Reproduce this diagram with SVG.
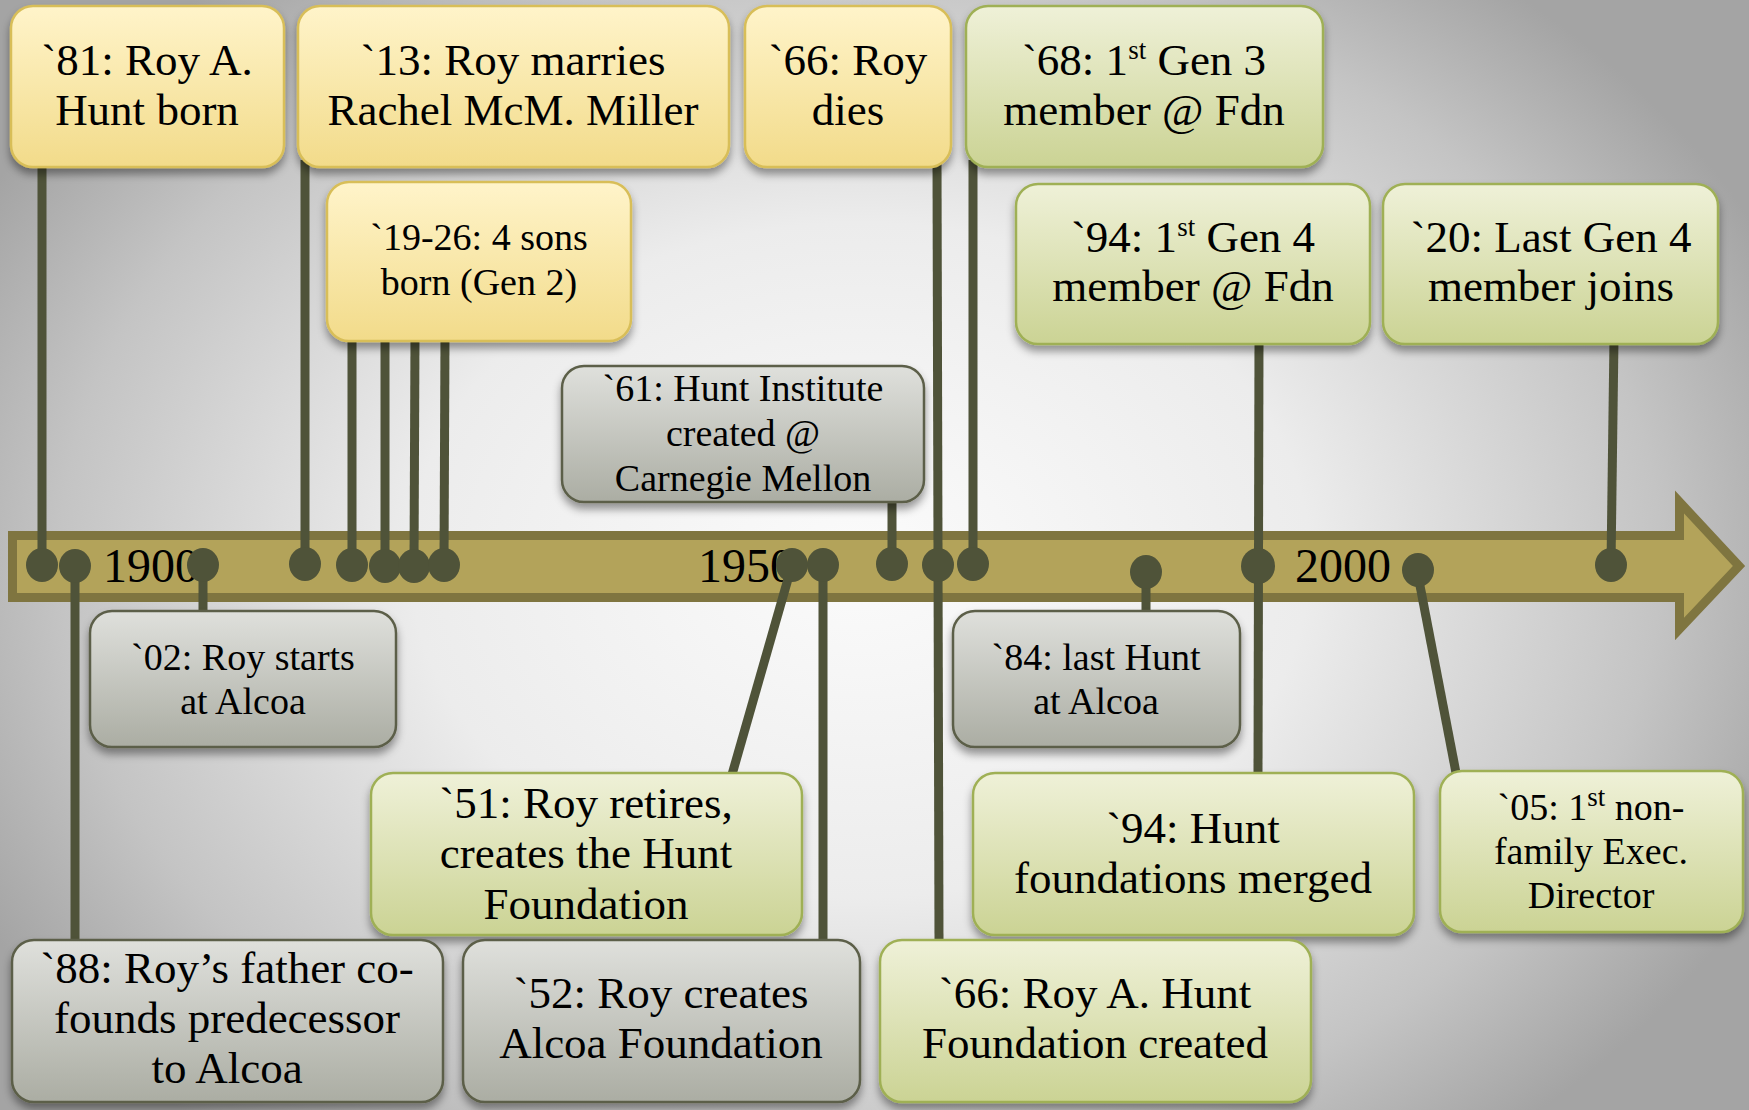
<svg xmlns="http://www.w3.org/2000/svg" width="1749" height="1110" viewBox="0 0 1749 1110">
<defs>
<radialGradient id="bg" gradientUnits="userSpaceOnUse" cx="860" cy="560" r="1000" gradientTransform="translate(860 560) scale(1 0.75) translate(-860 -560)">
<stop offset="0" stop-color="#fbfbfb"/>
<stop offset="0.45" stop-color="#ececec"/>
<stop offset="0.8" stop-color="#c4c4c4"/>
<stop offset="1" stop-color="#a4a4a4"/>
</radialGradient>
<linearGradient id="gy" x1="0" y1="0" x2="0" y2="1">
<stop offset="0" stop-color="#fff4ca"/>
<stop offset="1" stop-color="#f2db8a"/>
</linearGradient>
<linearGradient id="gg" x1="0" y1="0" x2="0" y2="1">
<stop offset="0" stop-color="#eff1d8"/>
<stop offset="1" stop-color="#cbd394"/>
</linearGradient>
<linearGradient id="gr" x1="0" y1="0" x2="0" y2="1">
<stop offset="0" stop-color="#dfe0dc"/>
<stop offset="1" stop-color="#abada3"/>
</linearGradient>
<filter id="sh" x="-10%" y="-10%" width="120%" height="130%">
<feDropShadow dx="0" dy="6" stdDeviation="4" flood-color="#000" flood-opacity="0.4"/>
</filter>
<style>
.y{fill:url(#gy);stroke:#d8be58;stroke-width:2.5;filter:url(#sh)}
.g{fill:url(#gg);stroke:#9fb055;stroke-width:2.5;filter:url(#sh)}
.r{fill:url(#gr);stroke:#5c5f48;stroke-width:2.5;filter:url(#sh)}
text{font-family:"Liberation Serif","Times New Roman",serif;fill:#000;text-anchor:middle}
.L{font-size:45px}
.S{font-size:38px}
.yr{font-size:48px;text-anchor:start}
.c{stroke:#4f5339;stroke-width:9;fill:none}
.d{fill:#4f5339}
.sup{font-size:27px}
</style>
</defs>
<rect x="0" y="0" width="1749" height="1110" fill="url(#bg)"/>
<g id="timeline">
<polygon points="12.5,535.5 1679.5,535.5 1679.5,502 1739,566 1679.5,629 1679.5,597.5 12.5,597.5" fill="#b3a35a" stroke="#7f7540" stroke-width="9" stroke-linejoin="miter"/>
<text class="yr" x="103" y="582">1900</text>
<text class="yr" x="698" y="582">1950</text>
<text class="yr" x="1295" y="582">2000</text>
</g>
<g id="connectors">
<line class="c" x1="42" y1="160" x2="42" y2="565"/>
<line class="c" x1="75" y1="565" x2="75" y2="945"/>
<line class="c" x1="203" y1="565" x2="203" y2="615"/>
<line class="c" x1="305" y1="160" x2="305" y2="565"/>
<line class="c" x1="352" y1="335" x2="352" y2="565"/>
<line class="c" x1="385" y1="335" x2="385" y2="566"/>
<line class="c" x1="415" y1="335" x2="414" y2="566"/>
<line class="c" x1="445" y1="335" x2="444" y2="565"/>
<line class="c" x1="792" y1="565" x2="731" y2="778"/>
<line class="c" x1="823" y1="565" x2="823" y2="945"/>
<line class="c" x1="892" y1="495" x2="892" y2="564"/>
<line class="c" x1="937" y1="160" x2="939" y2="945"/>
<line class="c" x1="973" y1="160" x2="973" y2="564"/>
<line class="c" x1="1146" y1="572" x2="1146" y2="615"/>
<line class="c" x1="1259" y1="338" x2="1258" y2="778"/>
<line class="c" x1="1417" y1="570" x2="1457" y2="778"/>
<line class="c" x1="1614" y1="338" x2="1611" y2="565"/>
<ellipse class="d" cx="42" cy="565" rx="16" ry="17"/>
<ellipse class="d" cx="75" cy="566" rx="16" ry="17"/>
<ellipse class="d" cx="203" cy="565" rx="16" ry="17"/>
<ellipse class="d" cx="305" cy="564" rx="16" ry="17"/>
<ellipse class="d" cx="352" cy="565" rx="16" ry="17"/>
<ellipse class="d" cx="385" cy="566" rx="16" ry="17"/>
<ellipse class="d" cx="414" cy="566" rx="16" ry="17"/>
<ellipse class="d" cx="444" cy="565" rx="16" ry="17"/>
<ellipse class="d" cx="792" cy="565" rx="16" ry="17"/>
<ellipse class="d" cx="823" cy="565" rx="16" ry="17"/>
<ellipse class="d" cx="892" cy="564" rx="16" ry="17"/>
<ellipse class="d" cx="938" cy="565" rx="16" ry="17"/>
<ellipse class="d" cx="973" cy="564" rx="16" ry="17"/>
<ellipse class="d" cx="1146" cy="572" rx="16" ry="17"/>
<ellipse class="d" cx="1258" cy="566" rx="17" ry="18"/>
<ellipse class="d" cx="1418" cy="570" rx="16" ry="17"/>
<ellipse class="d" cx="1611" cy="565" rx="16" ry="17"/>
</g>
<g id="n81">
<rect class="y" x="11" y="6" width="273" height="161" rx="22"/>
<text class="L" x="147" y="75">`81: Roy A.</text>
<text class="L" x="147" y="125">Hunt born</text>
</g>
<g id="n13">
<rect class="y" x="298" y="6" width="431" height="161" rx="22"/>
<text class="L" x="513" y="75">`13: Roy marries</text>
<text class="L" x="513" y="125">Rachel McM. Miller</text>
</g>
<g id="n66dies">
<rect class="y" x="745" y="6" width="206" height="161" rx="22"/>
<text class="L" x="848" y="75">`66: Roy</text>
<text class="L" x="848" y="125">dies</text>
</g>
<g id="n68">
<rect class="g" x="966" y="6" width="357" height="161" rx="22"/>
<text class="L" x="1144" y="75">`68: 1<tspan class="sup" dy="-16">st</tspan><tspan dy="16"> Gen 3</tspan></text>
<text class="L" x="1144" y="125">member @ Fdn</text>
</g>
<g id="n1926">
<rect class="y" x="327" y="182" width="304" height="159" rx="22"/>
<text class="S" x="479" y="250">`19-26: 4 sons</text>
<text class="S" x="479" y="295">born (Gen 2)</text>
</g>
<g id="n94gen4">
<rect class="g" x="1016" y="184" width="354" height="160" rx="22"/>
<text class="L" x="1193" y="252">`94: 1<tspan class="sup" dy="-16">st</tspan><tspan dy="16"> Gen 4</tspan></text>
<text class="L" x="1193" y="301">member @ Fdn</text>
</g>
<g id="n20">
<rect class="g" x="1383" y="184" width="335" height="160" rx="22"/>
<text class="L" x="1551" y="252">`20: Last Gen 4</text>
<text class="L" x="1551" y="301">member joins</text>
</g>
<g id="n61">
<rect class="r" x="562" y="366" width="362" height="136" rx="22"/>
<text class="S" x="743" y="401">`61: Hunt Institute</text>
<text class="S" x="743" y="446">created @</text>
<text class="S" x="743" y="491">Carnegie Mellon</text>
</g>
<g id="n02">
<rect class="r" x="90" y="611" width="306" height="136" rx="22"/>
<text class="S" x="243" y="670">`02: Roy starts</text>
<text class="S" x="243" y="714">at Alcoa</text>
</g>
<g id="n84">
<rect class="r" x="953" y="611" width="287" height="136" rx="22"/>
<text class="S" x="1096" y="670">`84: last Hunt</text>
<text class="S" x="1096" y="714">at Alcoa</text>
</g>
<g id="n51">
<rect class="g" x="371" y="773" width="431" height="162" rx="22"/>
<text class="L" x="586" y="818">`51: Roy retires,</text>
<text class="L" x="586" y="868">creates the Hunt</text>
<text class="L" x="586" y="919">Foundation</text>
</g>
<g id="n94merged">
<rect class="g" x="973" y="773" width="441" height="162" rx="22"/>
<text class="L" x="1193" y="843">`94: Hunt</text>
<text class="L" x="1193" y="893">foundations merged</text>
</g>
<g id="n05">
<rect class="g" x="1440" y="771" width="303" height="161" rx="22"/>
<text class="S" x="1591" y="820">`05: 1<tspan class="sup" dy="-14">st</tspan><tspan dy="14"> non-</tspan></text>
<text class="S" x="1591" y="864">family Exec.</text>
<text class="S" x="1591" y="908">Director</text>
</g>
<g id="n88">
<rect class="r" x="12" y="940" width="431" height="162" rx="22"/>
<text class="L" x="227" y="983">`88: Roy’s father co-</text>
<text class="L" x="227" y="1033">founds predecessor</text>
<text class="L" x="227" y="1083">to Alcoa</text>
</g>
<g id="n52">
<rect class="r" x="463" y="940" width="397" height="162" rx="22"/>
<text class="L" x="661" y="1008">`52: Roy creates</text>
<text class="L" x="661" y="1058">Alcoa Foundation</text>
</g>
<g id="n66fdn">
<rect class="g" x="880" y="940" width="431" height="162" rx="22"/>
<text class="L" x="1095" y="1008">`66: Roy A. Hunt</text>
<text class="L" x="1095" y="1058">Foundation created</text>
</g>
</svg>
